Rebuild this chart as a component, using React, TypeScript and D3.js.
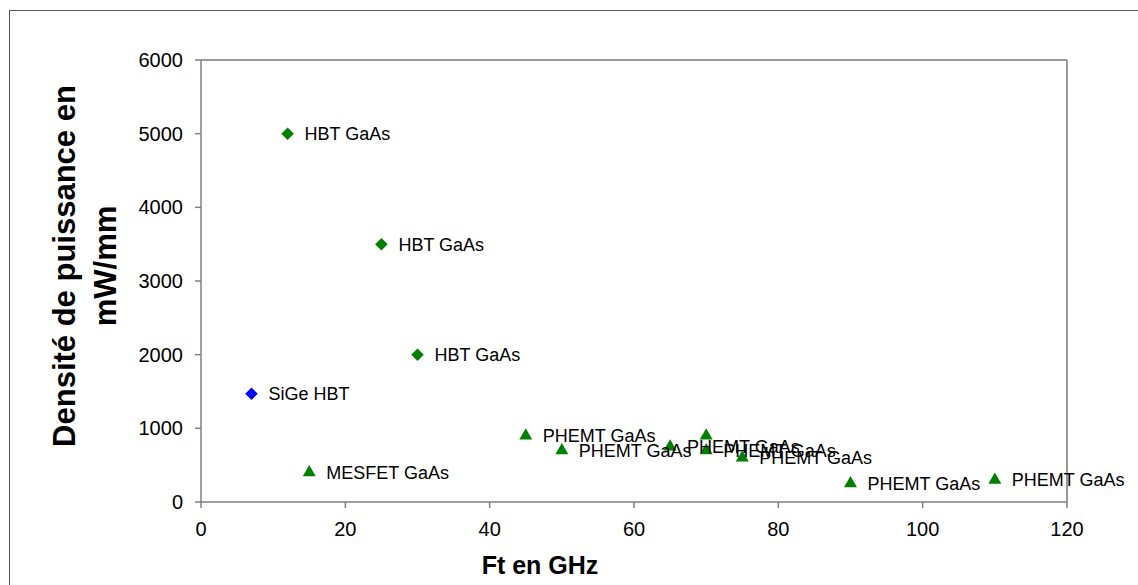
import React from "react";
import * as d3 from "d3";

const hbtX = [12, 25, 30];
const hbtY = [5000, 3500, 2000];
const hbtLabels = ["HBT GaAs", "HBT GaAs", "HBT GaAs"];

const sigeX = [7];
const sigeY = [1470];
const sigeLabels = ["SiGe HBT"];

const fetX = [15, 45, 50, 65, 70, 70, 75, 90, 110];
const fetY = [400, 900, 700, 750, 900, 700, 600, 250, 300];
const fetLabels = [
  "MESFET GaAs",
  "PHEMT GaAs",
  "PHEMT GaAs",
  "PHEMT GaAs",
  "",
  "PHEMT GaAs",
  "PHEMT GaAs",
  "PHEMT GaAs",
  "PHEMT GaAs",
];

const xTicks = [0, 20, 40, 60, 80, 100, 120];
const yTicks = [0, 1000, 2000, 3000, 4000, 5000, 6000];

const W = 1138;
const H = 585;
const left = 201;
const right = 1067;
const top = 60;
const bottom = 502;
const font = "'Liberation Sans', Arial, sans-serif";

export default function App() {
  const x = d3.scaleLinear().domain([0, 120]).range([left, right]);
  const y = d3.scaleLinear().domain([0, 6000]).range([bottom, top]);
  const diamond = d3.symbol().type(d3.symbolDiamond2).size(100)();
  const triangle = d3.symbol().type(d3.symbolTriangle2).size(120)();

  const labelStyle = { fontFamily: font, fontSize: 18, fill: "#000" };

  return (
    <svg
      width={W}
      height={H}
      style={{ position: "absolute", left: 0, top: 0, background: "#fff" }}
    >
      <rect x={9.5} y={10.5} width={1200} height={700} fill="#fff" stroke="#555" strokeWidth={1} />
      {/* plot frame */}
      <line x1={left} x2={right} y1={top} y2={top} stroke="#999" strokeWidth={2} />
      <line x1={right} x2={right} y1={top} y2={bottom} stroke="#999" strokeWidth={2} />
      {/* axes */}
      <line x1={left} x2={left} y1={top} y2={bottom} stroke="#808080" strokeWidth={1.5} />
      <line x1={left} x2={right} y1={bottom} y2={bottom} stroke="#808080" strokeWidth={1.5} />
      {yTicks.map((t) => (
        <g key={"y" + t}>
          <line x1={left - 6} x2={left} y1={y(t)} y2={y(t)} stroke="#808080" strokeWidth={1.5} />
          <text
            x={left - 18}
            y={y(t)}
            dy="0.35em"
            textAnchor="end"
            style={{ fontFamily: font, fontSize: 20, fill: "#000" }}
          >
            {t}
          </text>
        </g>
      ))}
      {xTicks.map((t) => (
        <g key={"x" + t}>
          <line x1={x(t)} x2={x(t)} y1={bottom} y2={bottom + 6} stroke="#808080" strokeWidth={1.5} />
          <text
            x={x(t)}
            y={536}
            textAnchor="middle"
            style={{ fontFamily: font, fontSize: 20, fill: "#000" }}
          >
            {t}
          </text>
        </g>
      ))}
      {/* titles */}
      <text
        x={540}
        y={574}
        textAnchor="middle"
        style={{ fontFamily: font, fontSize: 25, fontWeight: "bold", fill: "#000" }}
      >
        Ft en GHz
      </text>
      <g transform="translate(75,266) rotate(-90)">
        <text
          x={0}
          y={0}
          textAnchor="middle"
          style={{ fontFamily: font, fontSize: 31, fontWeight: "bold", fill: "#000" }}
        >
          Densité de puissance en
        </text>
        <text
          x={0}
          y={41}
          textAnchor="middle"
          style={{ fontFamily: font, fontSize: 31, fontWeight: "bold", fill: "#000" }}
        >
          mW/mm
        </text>
      </g>
      {/* series */}
      {hbtX.map((v, i) => (
        <path key={"h" + i} d={diamond!} transform={`translate(${x(v)},${y(hbtY[i])})`} fill="#008000" />
      ))}
      {sigeX.map((v, i) => (
        <path key={"s" + i} d={diamond!} transform={`translate(${x(v)},${y(sigeY[i])})`} fill="#0000ff" />
      ))}
      {fetX.map((v, i) => (
        <path key={"f" + i} d={triangle!} transform={`translate(${x(v)},${y(fetY[i])})`} fill="#008000" />
      ))}
      {/* labels */}
      {hbtX.map((v, i) => (
        <text key={"hl" + i} x={x(v) + 17} y={y(hbtY[i])} dy="0.36em" style={labelStyle}>
          {hbtLabels[i]}
        </text>
      ))}
      {sigeX.map((v, i) => (
        <text key={"sl" + i} x={x(v) + 17} y={y(sigeY[i])} dy="0.36em" style={labelStyle}>
          {sigeLabels[i]}
        </text>
      ))}
      {fetX.map((v, i) =>
        fetLabels[i] ? (
          <text key={"fl" + i} x={x(v) + 17} y={y(fetY[i])} dy="0.36em" style={labelStyle}>
            {fetLabels[i]}
          </text>
        ) : null
      )}
    </svg>
  );
}
